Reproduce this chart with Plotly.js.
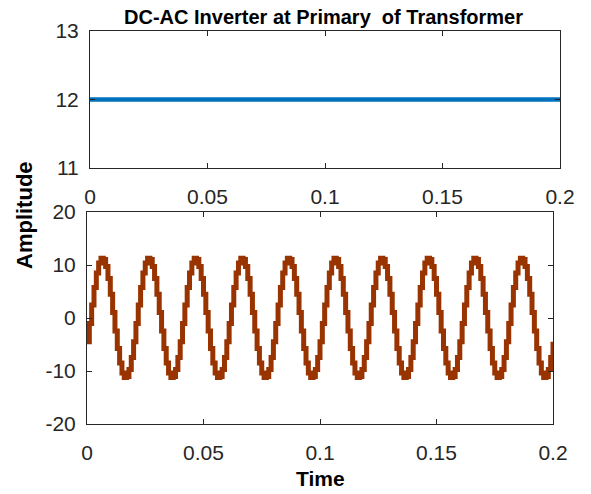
<!DOCTYPE html>
<html>
<head>
<meta charset="utf-8">
<script src="https://cdn.plot.ly/plotly-3.0.1.min.js"></script>
<style>html,body{margin:0;padding:0;background:#fff;}#chart{width:591px;height:494px;}</style>
</head>
<body>
<div id="chart"></div>
<script>
// DC input (top panel)
var dcTime = [0, 0.2];
var dcValue = [12, 12];

// Inverter output sampled every 1 ms (bottom panel)
var acTime = [
0,0.001,0.002,0.003,0.004,0.005,0.006,0.007,0.008,0.009,0.010,0.011,0.012,0.013,0.014,0.015,0.016,0.017,0.018,0.019,
0.020,0.021,0.022,0.023,0.024,0.025,0.026,0.027,0.028,0.029,0.030,0.031,0.032,0.033,0.034,0.035,0.036,0.037,0.038,0.039,
0.040,0.041,0.042,0.043,0.044,0.045,0.046,0.047,0.048,0.049,0.050,0.051,0.052,0.053,0.054,0.055,0.056,0.057,0.058,0.059,
0.060,0.061,0.062,0.063,0.064,0.065,0.066,0.067,0.068,0.069,0.070,0.071,0.072,0.073,0.074,0.075,0.076,0.077,0.078,0.079,
0.080,0.081,0.082,0.083,0.084,0.085,0.086,0.087,0.088,0.089,0.090,0.091,0.092,0.093,0.094,0.095,0.096,0.097,0.098,0.099,
0.100,0.101,0.102,0.103,0.104,0.105,0.106,0.107,0.108,0.109,0.110,0.111,0.112,0.113,0.114,0.115,0.116,0.117,0.118,0.119,
0.120,0.121,0.122,0.123,0.124,0.125,0.126,0.127,0.128,0.129,0.130,0.131,0.132,0.133,0.134,0.135,0.136,0.137,0.138,0.139,
0.140,0.141,0.142,0.143,0.144,0.145,0.146,0.147,0.148,0.149,0.150,0.151,0.152,0.153,0.154,0.155,0.156,0.157,0.158,0.159,
0.160,0.161,0.162,0.163,0.164,0.165,0.166,0.167,0.168,0.169,0.170,0.171,0.172,0.173,0.174,0.175,0.176,0.177,0.178,0.179,
0.180,0.181,0.182,0.183,0.184,0.185,0.186,0.187,0.188,0.189,0.190,0.191,0.192,0.193,0.194,0.195,0.196,0.197,0.198,0.199,
0.200
];
var acValue = [
-4.49,-1.06,2.47,5.75,8.48,10.37,11.25,11.03,9.73,7.47,4.49,1.06,-2.47,-5.75,-8.48,-10.37,-11.25,-11.03,-9.73,-7.47,
-4.49,-1.06,2.47,5.75,8.48,10.37,11.25,11.03,9.73,7.47,4.49,1.06,-2.47,-5.75,-8.48,-10.37,-11.25,-11.03,-9.73,-7.47,
-4.49,-1.06,2.47,5.75,8.48,10.37,11.25,11.03,9.73,7.47,4.49,1.06,-2.47,-5.75,-8.48,-10.37,-11.25,-11.03,-9.73,-7.47,
-4.49,-1.06,2.47,5.75,8.48,10.37,11.25,11.03,9.73,7.47,4.49,1.06,-2.47,-5.75,-8.48,-10.37,-11.25,-11.03,-9.73,-7.47,
-4.49,-1.06,2.47,5.75,8.48,10.37,11.25,11.03,9.73,7.47,4.49,1.06,-2.47,-5.75,-8.48,-10.37,-11.25,-11.03,-9.73,-7.47,
-4.49,-1.06,2.47,5.75,8.48,10.37,11.25,11.03,9.73,7.47,4.49,1.06,-2.47,-5.75,-8.48,-10.37,-11.25,-11.03,-9.73,-7.47,
-4.49,-1.06,2.47,5.75,8.48,10.37,11.25,11.03,9.73,7.47,4.49,1.06,-2.47,-5.75,-8.48,-10.37,-11.25,-11.03,-9.73,-7.47,
-4.49,-1.06,2.47,5.75,8.48,10.37,11.25,11.03,9.73,7.47,4.49,1.06,-2.47,-5.75,-8.48,-10.37,-11.25,-11.03,-9.73,-7.47,
-4.49,-1.06,2.47,5.75,8.48,10.37,11.25,11.03,9.73,7.47,4.49,1.06,-2.47,-5.75,-8.48,-10.37,-11.25,-11.03,-9.73,-7.47,
-4.49,-1.06,2.47,5.75,8.48,10.37,11.25,11.03,9.73,7.47,4.49,1.06,-2.47,-5.75,-8.48,-10.37,-11.25,-11.03,-9.73,-7.47,
-4.49
];

var xTickVals = [0, 0.05, 0.1, 0.15, 0.2];
var xTickText = ['0', '0.05', '0.1', '0.15', '0.2'];
var topYTicks = [11, 12, 13];
var topYText = ['11', '12', '13'];
var bottomYTicks = [-20, -10, 0, 10, 20];
var bottomYText = ['-20', '-10', '0', '10', '20'];
var chartTitle = 'DC-AC Inverter at Primary\u00a0 of Transformer';
var xLabel = 'Time';
var yLabel = 'Amplitude';

var FONT = 'Liberation Sans, Arial, Helvetica, sans-serif';
var AX = '#262626';

function axisBase(extra) {
  var a = {
    showgrid: false, zeroline: false, showline: true, mirror: 'ticks',
    linecolor: AX, linewidth: 1, ticks: 'inside', ticklen: 5, tickcolor: AX,
    tickfont: {family: FONT, size: 21, color: AX}, fixedrange: true
  };
  for (var k in extra) a[k] = extra[k];
  return a;
}

var traces = [
  {x: dcTime, y: dcValue, xaxis: 'x', yaxis: 'y', type: 'scatter', mode: 'lines',
   line: {color: '#0072BD', width: 4.5}, hoverinfo: 'skip'},
  {x: acTime, y: acValue, xaxis: 'x2', yaxis: 'y2', type: 'scatter', mode: 'lines',
   line: {color: '#993300', width: 5, shape: 'hv'}, hoverinfo: 'skip'}
];

var layout = {
  width: 591, height: 494,
  margin: {l: 0, r: 0, t: 0, b: 0},
  paper_bgcolor: '#ffffff', plot_bgcolor: '#ffffff',
  showlegend: false,
  xaxis: axisBase({domain: [90/591, 560/591], range: [0, 0.2], anchor: 'y',
    tickvals: xTickVals, ticktext: xTickText, ticklabelstandoff: 10}),
  yaxis: axisBase({domain: [1 - 168/494, 1 - 31/494], range: [11, 13], anchor: 'x',
    tickvals: topYTicks, ticktext: topYText, ticklabelstandoff: 6}),
  xaxis2: axisBase({domain: [87/591, 553/591], range: [0, 0.2], anchor: 'y2',
    tickvals: xTickVals, ticktext: xTickText, ticklabelstandoff: 10}),
  yaxis2: axisBase({domain: [1 - 424/494, 1 - 212/494], range: [-20, 20], anchor: 'x2',
    tickvals: bottomYTicks, ticktext: bottomYText, ticklabelstandoff: 6}),
  annotations: [
    {text: '<b>' + chartTitle + '</b>', xref: 'paper', yref: 'paper',
     x: 323/591, y: 1 - 17/494, xanchor: 'center', yanchor: 'middle', showarrow: false,
     font: {family: FONT, size: 20, color: '#000000'}},
    {text: '<b>' + xLabel + '</b>', xref: 'paper', yref: 'paper',
     x: 320/591, y: 1 - 478/494, xanchor: 'center', yanchor: 'middle', showarrow: false,
     font: {family: FONT, size: 21, color: '#000000'}},
    {text: '<b>' + yLabel + '</b>', xref: 'paper', yref: 'paper', textangle: -90,
     x: 24/591, y: 1 - 215/494, xanchor: 'center', yanchor: 'middle', showarrow: false,
     font: {family: FONT, size: 22, color: '#000000'}}
  ]
};

Plotly.newPlot('chart', traces, layout, {staticPlot: true, displayModeBar: false});
</script>
</body>
</html>
